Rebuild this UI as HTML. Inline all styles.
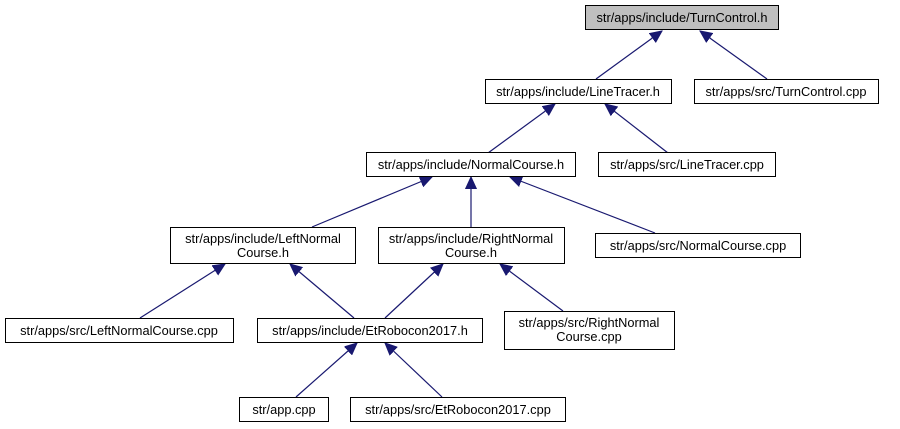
<!DOCTYPE html>
<html><head><meta charset="utf-8"><style>
html,body{margin:0;padding:0;background:#fff;width:900px;height:429px;overflow:hidden}
text{font-family:"Liberation Sans",Arial,sans-serif;font-size:12.8px;fill:#000}
</style></head><body>
<svg width="900" height="429" viewBox="0 0 900 429" xmlns="http://www.w3.org/2000/svg">
<defs><marker id="a" markerWidth="13" markerHeight="12" refX="12" refY="6" orient="auto" markerUnits="userSpaceOnUse">
<path d="M0,0.5 L12,6 L0,11.5 Z" fill="#191970" stroke="#191970"/></marker></defs>
<g stroke="#191970" stroke-width="1.2" marker-end="url(#a)" fill="none">
<line x1="596" y1="79" x2="662" y2="31"/>
<line x1="767" y1="79" x2="700" y2="31"/>
<line x1="488" y1="153" x2="555" y2="104"/>
<line x1="668" y1="153" x2="605" y2="104"/>
<line x1="312" y1="227" x2="432" y2="177"/>
<line x1="471" y1="227" x2="471" y2="177"/>
<line x1="655" y1="233" x2="510" y2="177"/>
<line x1="140" y1="318" x2="225" y2="264"/>
<line x1="354" y1="318" x2="290" y2="264"/>
<line x1="385" y1="318" x2="443" y2="264"/>
<line x1="563" y1="311" x2="500" y2="264"/>
<line x1="296" y1="397" x2="357" y2="343"/>
<line x1="442" y1="397" x2="385" y2="343"/>
</g>
<g stroke="#000" stroke-width="1">
<rect x="585.5" y="5.5" width="193" height="24" fill="#bfbfbf"/>
<rect x="485.5" y="79.5" width="186" height="24" fill="#fff"/>
<rect x="694.5" y="79.5" width="184" height="24" fill="#fff"/>
<rect x="366.5" y="152.5" width="209" height="24" fill="#fff"/>
<rect x="598.5" y="152.5" width="177" height="24" fill="#fff"/>
<rect x="170.5" y="227.5" width="185" height="36" fill="#fff"/>
<rect x="378.5" y="227.5" width="186" height="36" fill="#fff"/>
<rect x="595.5" y="233.5" width="205" height="24" fill="#fff"/>
<rect x="5.5" y="318.5" width="228" height="24" fill="#fff"/>
<rect x="257.5" y="318.5" width="225" height="24" fill="#fff"/>
<rect x="504.5" y="311.5" width="170" height="38" fill="#fff"/>
<rect x="239.5" y="397.5" width="89" height="24" fill="#fff"/>
<rect x="350.5" y="397.5" width="215" height="24" fill="#fff"/>
</g>
<g text-anchor="middle">
<text x="682" y="22">str/apps/include/TurnControl.h</text>
<text x="578" y="96">str/apps/include/LineTracer.h</text>
<text x="786" y="96">str/apps/src/TurnControl.cpp</text>
<text x="471" y="169">str/apps/include/NormalCourse.h</text>
<text x="687" y="169">str/apps/src/LineTracer.cpp</text>
<text x="263" y="243">str/apps/include/LeftNormal</text>
<text x="263" y="257">Course.h</text>
<text x="471" y="243">str/apps/include/RightNormal</text>
<text x="471" y="257">Course.h</text>
<text x="698" y="250">str/apps/src/NormalCourse.cpp</text>
<text x="119" y="335">str/apps/src/LeftNormalCourse.cpp</text>
<text x="370" y="335">str/apps/include/EtRobocon2017.h</text>
<text x="589" y="327">str/apps/src/RightNormal</text>
<text x="589" y="341">Course.cpp</text>
<text x="284" y="414">str/app.cpp</text>
<text x="458" y="414">str/apps/src/EtRobocon2017.cpp</text>
</g>
</svg>
</body></html>
